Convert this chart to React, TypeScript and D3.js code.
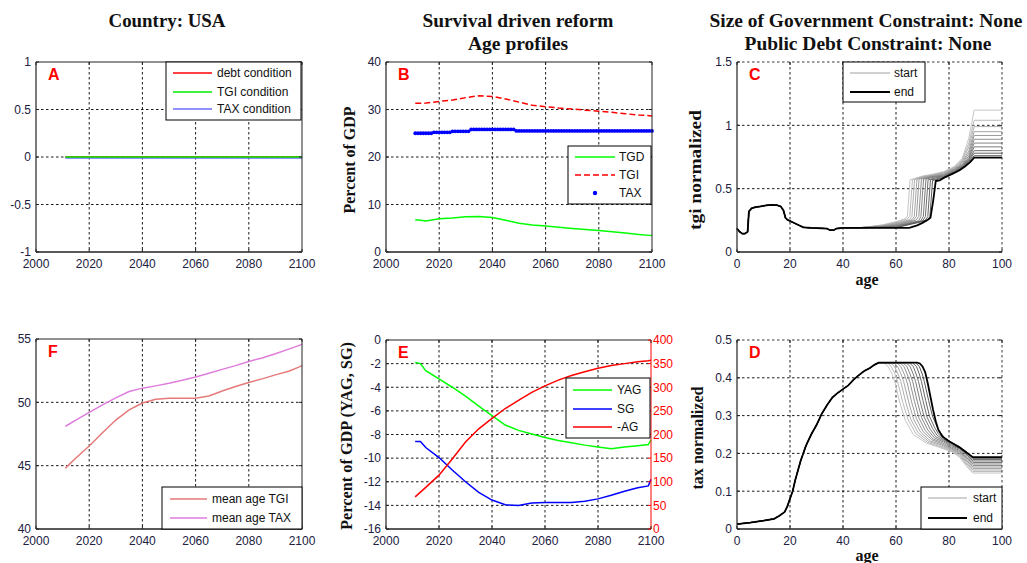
import React from 'react';
import * as d3 from 'd3';

const SANS = "'Liberation Sans', Arial, Helvetica, sans-serif";
const SERIF = "'Liberation Serif', 'Times New Roman', serif";
const TICK_COLOR = '#202040';

// ---------------- DATA ----------------
const yearTicks = [2000, 2020, 2040, 2060, 2080, 2100];
const ageTicks = [0, 20, 40, 60, 80, 100];

// Panel A
const condYears = [2011, 2100];
const debtCondition = [0, 0];
const tgiCondition = [0, 0];
const taxCondition = [0, 0];
const aYTicks = [-1, -0.5, 0, 0.5, 1];

// Shared year grid for B, E, F
const years = [2011, 2013, 2015, 2020, 2025, 2030, 2035, 2040, 2045, 2050, 2055, 2060, 2065, 2070, 2075, 2080, 2085, 2090, 2095, 2099, 2100];

// Panel B (percent of GDP)
const tgdSeries = [6.8, 6.7, 6.55, 7.0, 7.15, 7.4, 7.45, 7.25, 6.7, 6.05, 5.7, 5.45, 5.2, 4.95, 4.75, 4.55, 4.25, 4.0, 3.7, 3.5, 3.45];
const tgiSeries = [31.3, 31.3, 31.35, 31.7, 32.0, 32.5, 32.9, 32.75, 32.2, 31.55, 30.9, 30.6, 30.3, 30.1, 29.85, 29.65, 29.4, 29.1, 28.85, 28.7, 28.65];
const taxYears = d3.range(2011, 2101);
const taxSeries = [
  25.0, 25.0, 25.0, 25.0, 25.0, 25.0, 25.0,
  25.2, 25.2, 25.2, 25.2, 25.2, 25.2, 25.2,
  25.4, 25.4, 25.4, 25.4, 25.4, 25.4, 25.4,
  25.8, 25.8, 25.8, 25.8, 25.8, 25.8, 25.8, 25.8, 25.8, 25.8, 25.8, 25.8, 25.8, 25.8, 25.8, 25.8, 25.8,
  25.5, 25.5, 25.5, 25.5, 25.5, 25.5, 25.5, 25.5, 25.5, 25.5, 25.5, 25.5, 25.5,
  25.5, 25.5, 25.5, 25.5, 25.5, 25.5, 25.5, 25.5, 25.5, 25.5, 25.5, 25.5, 25.5,
  25.5, 25.5, 25.5, 25.5, 25.5, 25.5, 25.5, 25.5, 25.5, 25.5, 25.5, 25.5, 25.5,
  25.5, 25.5, 25.5, 25.5, 25.5, 25.5, 25.5, 25.5, 25.5, 25.5, 25.5, 25.5, 25.5,
];
const bYTicks = [0, 10, 20, 30, 40];

// Panel E
const yagSeries = [-1.9, -2.0, -2.6, -3.3, -4.0, -4.75, -5.6, -6.4, -7.2, -7.65, -7.95, -8.25, -8.5, -8.7, -8.9, -9.05, -9.2, -9.05, -8.95, -8.85, -8.45];
const sgSeries = [-8.6, -8.6, -9.1, -9.95, -11.0, -12.0, -12.9, -13.55, -13.95, -14.0, -13.8, -13.75, -13.75, -13.75, -13.65, -13.45, -13.15, -12.8, -12.5, -12.35, -11.8];
const negAgSeries = [68, 78, 88, 114, 148, 184, 212, 234, 255, 272, 289, 303, 315, 325, 333, 340, 346, 350, 354, 356, 357];
const eYTicks = [-16, -14, -12, -10, -8, -6, -4, -2, 0];
const eRightTicks = [0, 50, 100, 150, 200, 250, 300, 350, 400];

// Panel F
const meanAgeTGI = [44.8, 45.2, 45.6, 46.55, 47.6, 48.6, 49.4, 49.95, 50.25, 50.33, 50.32, 50.33, 50.5, 50.9, 51.25, 51.57, 51.85, 52.17, 52.45, 52.8, 52.9];
const meanAgeTAX = [48.1, 48.35, 48.6, 49.2, 49.8, 50.35, 50.85, 51.12, 51.3, 51.5, 51.75, 52.0, 52.3, 52.6, 52.9, 53.23, 53.5, 53.84, 54.2, 54.5, 54.6];
const fYTicks = [40, 45, 50, 55];

// Panel C: tgi normalized age profiles (common young-age part + cohort tails, start -> end)
type Pt = [number, number];
const tgiPrefix: Pt[] = [[0, .185], [1, .16], [2, .145], [3, .145], [4, .16], [4.5, .32], [5.5, .345], [7, .355], [9, .36], [11, .368], [13, .372], [15, .37], [16.5, .36], [17.5, .33], [18.3, .27], [19, .255], [20, .245], [22, .225], [25, .195], [28, .19], [34, .185], [35, .172], [36.5, .172], [37.5, .185], [40, .19], [44, .19]];
const tgiTails: Pt[][] = [
  [[45, .19], [50, .20], [55, .215], [60, .24], [63, .26], [64.3, .28], [65.3, .57], [67, .58], [70, .60], [74, .615], [78, .635], [82, .675], [85, .74], [87.5, .90], [89.5, 1.12], [100, 1.12]],
  [[45, .19], [50, .198], [55, .212], [60, .235], [64, .26], [65.2, .28], [66.2, .57], [68, .585], [71, .60], [74, .61], [78, .63], [82, .67], [85, .73], [87.5, .86], [89.5, 1.04], [100, 1.04]],
  [[45, .19], [55, .21], [60, .23], [65, .255], [66, .28], [67, .57], [69, .585], [72, .60], [78, .625], [82, .665], [85, .72], [87.5, .83], [89.5, .99], [100, .99]],
  [[45, .19], [55, .207], [60, .225], [66, .255], [66.9, .28], [67.9, .575], [70, .59], [73, .60], [78, .62], [82, .66], [85, .71], [87.5, .80], [89.5, .95], [100, .95]],
  [[45, .19], [55, .205], [60, .22], [66.5, .25], [67.7, .28], [68.7, .575], [71, .59], [74, .60], [78, .615], [82, .655], [85, .70], [87.5, .78], [89.5, .92], [100, .92]],
  [[45, .19], [55, .202], [60, .215], [67.5, .25], [68.6, .28], [69.6, .575], [72, .59], [75, .60], [78, .61], [82, .65], [85, .69], [87.5, .76], [89.5, .89], [100, .89]],
  [[45, .19], [55, .20], [60, .21], [68.5, .245], [69.4, .28], [70.4, .575], [73, .59], [78, .605], [82, .645], [85, .685], [87.5, .745], [89.5, .86], [100, .86]],
  [[45, .19], [55, .197], [60, .205], [69.3, .245], [70.3, .28], [71.3, .575], [74, .59], [78, .60], [82, .64], [85, .68], [87.5, .735], [89.5, .83], [100, .83]],
  [[45, .19], [60, .20], [70, .245], [71.1, .28], [72.1, .57], [75, .585], [78, .595], [82, .635], [85, .675], [87.5, .725], [89.5, .80], [100, .80]],
  [[45, .19], [60, .195], [71, .25], [72, .28], [73, .57], [76, .58], [78, .59], [82, .63], [85, .67], [87.5, .715], [89.5, .78], [100, .78]],
  [[45, .19], [60, .192], [72, .25], [72.8, .28], [73.8, .565], [76, .575], [78, .585], [82, .625], [85, .665], [87.5, .705], [89.5, .76], [100, .76]],
  [[45, .19], [65, .19], [68, .21], [70, .23], [72, .255], [73, .27], [74, .40], [75, .56], [76.5, .565], [78, .585], [80, .605], [82, .625], [84, .645], [86, .675], [88, .71], [89.5, .745], [100, .745]],
];
const cYTicks = [0, 0.5, 1, 1.5];

// Panel D: tax normalized age profiles
const taxPrefix: Pt[] = [[0, .013], [5, .017], [10, .022], [14, .027], [16, .035], [18, .045], [19, .06], [20, .08], [21, .10], [22, .13], [24, .18], [26, .22], [28, .25], [30, .275], [32, .305], [34, .328], [36, .348], [38, .36], [40, .37], [42, .38], [44, .395], [46, .407], [48, .418], [50, .425], [52, .435], [53.5, .44]];
const taxTails: Pt[][] = [
  [[55.5, .44], [57, .43], [58.5, .41], [59.5, .39], [61.5, .333], [63.5, .288], [66.5, .25], [71.5, .227], [76, .217], [81, .204], [84, .19], [86.8, .164], [89, .148], [100, .148]],
  [[56.7, .44], [58.2, .43], [59.6, .41], [60.6, .39], [62.6, .334], [64.6, .289], [67.5, .252], [72, .229], [76, .219], [81, .206], [84, .193], [86.8, .168], [89, .152], [100, .152]],
  [[57.9, .44], [59.4, .43], [60.8, .41], [61.8, .39], [63.7, .335], [65.6, .29], [68.4, .254], [72.5, .231], [76.5, .221], [81, .208], [84, .196], [86.8, .172], [89, .156], [100, .156]],
  [[59.1, .44], [60.6, .43], [61.9, .41], [62.9, .39], [64.8, .336], [66.6, .291], [69.3, .256], [73, .233], [77, .223], [81, .21], [84, .199], [86.8, .176], [89, .16], [100, .16]],
  [[60.3, .44], [61.8, .43], [63.1, .41], [64.1, .39], [65.9, .336], [67.7, .292], [70.2, .258], [73.5, .236], [77, .226], [81, .212], [84, .202], [86.8, .18], [89, .164], [100, .164]],
  [[61.5, .44], [63, .43], [64.2, .41], [65.2, .39], [67, .337], [68.7, .293], [71.1, .26], [74, .238], [77.5, .228], [81, .214], [84, .205], [86.8, .184], [89, .168], [100, .168]],
  [[62.6, .44], [64.1, .43], [65.3, .41], [66.3, .39], [68, .338], [69.7, .294], [72, .262], [74.5, .241], [78, .23], [81, .217], [84, .208], [86.8, .188], [89, .172], [100, .172]],
  [[63.8, .44], [65.3, .43], [66.5, .41], [67.4, .39], [69.1, .338], [70.7, .295], [72.9, .264], [75, .244], [78, .233], [81, .22], [84, .211], [86.8, .192], [89, .176], [100, .176]],
  [[65, .44], [66.5, .43], [67.6, .41], [68.5, .39], [70.2, .339], [71.7, .296], [73.8, .266], [75.5, .248], [78, .236], [81, .223], [84, .213], [86.8, .196], [89, .18], [100, .18]],
  [[66.2, .44], [67.7, .43], [68.8, .41], [69.6, .39], [71.2, .34], [72.7, .297], [74.6, .268], [76, .252], [78, .238], [81, .226], [84, .215], [86.8, .2], [89, .184], [100, .184]],
  [[67.3, .44], [68.8, .43], [69.9, .41], [70.7, .39], [72.3, .34], [73.8, .298], [75.5, .27], [76.8, .255], [78.5, .24], [81, .229], [84, .217], [86.8, .204], [89, .187], [100, .187]],
  [[68, .44], [69, .438], [70, .43], [71, .415], [72, .385], [73, .35], [74, .315], [75, .285], [76, .262], [77.5, .245], [80, .232], [82, .224], [84, .216], [86, .205], [88, .195], [89, .19], [100, .19]],
];
const dYTicks = [0, 0.1, 0.2, 0.3, 0.4, 0.5];

// ---------------- HELPERS ----------------
type Box = { l: number; r: number; t: number; b: number };
type Lin = d3.ScaleLinear<number, number>;

function Axes(props: {
  box: Box; x: Lin; y: Lin; xTicks: number[]; yTicks: number[]; letter: string;
  dottedEdges?: boolean; right?: { scale: Lin; ticks: number[]; color: string };
  children?: React.ReactNode;
}) {
  const { box, x, y, xTicks, yTicks, letter, dottedEdges, right, children } = props;
  const [x0, x1] = x.domain();
  const [y0, y1] = y.domain();
  const gx = xTicks.filter((v) => v !== x0 && v !== x1);
  const gy = yTicks.filter((v) => v !== y0 && v !== y1);
  const dash = '2.5,2.5';
  const tl = 3;
  return (
    <g>
      <rect x={box.l} y={box.t} width={box.r - box.l} height={box.b - box.t} fill="#fff" />
      {gx.map((v) => (
        <line key={'gx' + v} x1={x(v)} x2={x(v)} y1={box.t} y2={box.b} stroke="#000" strokeWidth={0.9} strokeDasharray={dash} />
      ))}
      {gy.map((v) => (
        <line key={'gy' + v} x1={box.l} x2={box.r} y1={y(v)} y2={y(v)} stroke="#000" strokeWidth={0.9} strokeDasharray={dash} />
      ))}
      {children}
      {/* frame */}
      <line x1={box.l} x2={box.r} y1={box.t} y2={box.t} stroke="#222" strokeWidth={dottedEdges ? 0.9 : 1} strokeDasharray={dottedEdges ? dash : undefined} />
      <line x1={box.r} x2={box.r} y1={box.t} y2={box.b} stroke={right ? right.color : '#222'} strokeWidth={dottedEdges ? 0.9 : 1} strokeDasharray={dottedEdges ? dash : undefined} />
      <line x1={box.l} x2={box.l} y1={box.t} y2={box.b} stroke="#222" strokeWidth={1.2} />
      <line x1={box.l} x2={box.r} y1={box.b} y2={box.b} stroke="#222" strokeWidth={1.4} />
      {/* ticks */}
      {xTicks.map((v) => (
        <g key={'tx' + v}>
          <line x1={x(v)} x2={x(v)} y1={box.b} y2={box.b - tl} stroke="#222" />
          <line x1={x(v)} x2={x(v)} y1={box.t} y2={box.t + tl} stroke="#222" />
          <text x={x(v)} y={box.b + 15.5} textAnchor="middle" fontSize={12} fill={TICK_COLOR} fontFamily={SANS}>{String(v)}</text>
        </g>
      ))}
      {yTicks.map((v) => (
        <g key={'ty' + v}>
          <line x1={box.l} x2={box.l + tl} y1={y(v)} y2={y(v)} stroke="#222" />
          {!right && <line x1={box.r} x2={box.r - tl} y1={y(v)} y2={y(v)} stroke="#222" />}
          <text x={box.l - 5} y={y(v)} dy="0.36em" textAnchor="end" fontSize={12} fill={TICK_COLOR} fontFamily={SANS}>{String(v)}</text>
        </g>
      ))}
      {right &&
        right.ticks.map((v) => (
          <g key={'tr' + v}>
            <line x1={box.r} x2={box.r - tl} y1={right.scale(v)} y2={right.scale(v)} stroke={right.color} />
            <text x={box.r + 2} y={right.scale(v)} dy="0.36em" textAnchor="start" fontSize={12} fill={right.color} fontFamily={SANS}>{String(v)}</text>
          </g>
        ))}
      <text x={box.l + 12} y={box.t + 18} fontSize={16} fontWeight="bold" fill="#ff0000" fontFamily={SANS}>{letter}</text>
    </g>
  );
}

type LegItem = { label: string; color: string; width?: number; dash?: string; marker?: boolean };
function Legend(props: { x: number; y: number; w: number; h: number; rows: number[]; lineX: [number, number]; textX: number; items: LegItem[] }) {
  const { x, y, w, h, rows, lineX, textX, items } = props;
  return (
    <g>
      <rect x={x} y={y} width={w} height={h} fill="#fff" stroke="#000" strokeWidth={1} />
      {items.map((it, i) => (
        <g key={it.label}>
          {it.marker ? (
            <circle cx={(lineX[0] + lineX[1]) / 2} cy={rows[i]} r={2.2} fill={it.color} />
          ) : (
            <line x1={lineX[0]} x2={lineX[1]} y1={rows[i]} y2={rows[i]} stroke={it.color} strokeWidth={it.width ?? 1.5} strokeDasharray={it.dash} />
          )}
          <text x={textX} y={rows[i]} dy="0.36em" fontSize={12} fill="#111" fontFamily={SANS}>{it.label}</text>
        </g>
      ))}
    </g>
  );
}

function Title({ x, y, text, len, size = 18 }: { x: number; y: number; text: string; len: number; size?: number }) {
  return (
    <text x={x} y={y} textAnchor="middle" fontSize={size} fontWeight="bold" fontFamily={SERIF} fill="#111" textLength={len} lengthAdjust="spacingAndGlyphs">{text}</text>
  );
}

function YLabel({ x, y, text, len, size = 16 }: { x: number; y: number; text: string; len: number; size?: number }) {
  return (
    <text transform={`translate(${x},${y}) rotate(-90)`} textAnchor="middle" fontSize={size} fontWeight="bold" fontFamily={SERIF} fill="#111" textLength={len} lengthAdjust="spacingAndGlyphs">{text}</text>
  );
}

const lineXY = (x: Lin, y: Lin) => d3.line<Pt>().x((d) => x(d[0])).y((d) => y(d[1]));
const zipPts = (xs: number[], ys: number[]): Pt[] => xs.map((v, i) => [v, ys[i]] as Pt);

// ---------------- APP ----------------
export default function App() {
  const bA: Box = { l: 36, r: 302, t: 62, b: 252 };
  const bB: Box = { l: 386, r: 652, t: 62, b: 252 };
  const bC: Box = { l: 737, r: 1002, t: 62, b: 252 };
  const bF: Box = { l: 36, r: 302, t: 339, b: 529 };
  const bE: Box = { l: 386, r: 651, t: 340, b: 529 };
  const bD: Box = { l: 737, r: 1002, t: 340, b: 529 };

  const xA = d3.scaleLinear().domain([2000, 2100]).range([bA.l, bA.r]);
  const yA = d3.scaleLinear().domain([-1, 1]).range([bA.b, bA.t]);
  const xB = d3.scaleLinear().domain([2000, 2100]).range([bB.l, bB.r]);
  const yB = d3.scaleLinear().domain([0, 40]).range([bB.b, bB.t]);
  const xC = d3.scaleLinear().domain([0, 100]).range([bC.l, bC.r]);
  const yC = d3.scaleLinear().domain([0, 1.5]).range([bC.b, bC.t]);
  const xF = d3.scaleLinear().domain([2000, 2100]).range([bF.l, bF.r]);
  const yF = d3.scaleLinear().domain([40, 55]).range([bF.b, bF.t]);
  const xE = d3.scaleLinear().domain([2000, 2100]).range([bE.l, bE.r]);
  const yE = d3.scaleLinear().domain([-16, 0]).range([bE.b, bE.t]);
  const yER = d3.scaleLinear().domain([0, 400]).range([bE.b, bE.t]);
  const xD = d3.scaleLinear().domain([0, 100]).range([bD.l, bD.r]);
  const yD = d3.scaleLinear().domain([0, 0.5]).range([bD.b, bD.t]);

  const lA = lineXY(xA, yA);
  const lB = lineXY(xB, yB);
  const lC = lineXY(xC, yC);
  const lF = lineXY(xF, yF);
  const lE = lineXY(xE, yE);
  const lER = lineXY(xE, yER);
  const lD = lineXY(xD, yD);

  const n = tgiTails.length;
  const greyFor = (i: number) => (i === n - 1 ? '#000' : d3.interpolateRgb('#c6c6c6', '#5a5a5a')(i / (n - 2)));

  return (
    <svg width={1027} height={563} style={{ position: 'absolute', left: 0, top: 0, background: '#fff' }}>
      <rect x={0} y={0} width={1027} height={563} fill="#fff" />

      {/* Titles */}
      <Title x={167} y={27} text="Country: USA" len={117} />
      <Title x={518} y={27} text="Survival driven reform" len={191} />
      <Title x={518} y={50} text="Age profiles" len={100} />
      <Title x={866} y={27} text="Size of Government Constraint: None" len={313} />
      <Title x={868} y={50} text="Public Debt Constraint: None" len={247} />

      {/* Panel A */}
      <Axes box={bA} x={xA} y={yA} xTicks={yearTicks} yTicks={aYTicks} letter="A">
        <path d={lA(zipPts(condYears, debtCondition)) ?? ''} fill="none" stroke="#ff0000" strokeWidth={1.5} />
        <path d={lA(zipPts(condYears, taxCondition)) ?? ''} fill="none" stroke="#6b6bff" strokeWidth={1.5} transform="translate(0,1)" />
        <path d={lA(zipPts(condYears, tgiCondition)) ?? ''} fill="none" stroke="#00ee00" strokeWidth={1.5} />
      </Axes>
      <Legend x={166} y={62} w={135} h={58} rows={[73, 92, 109]} lineX={[173, 212]} textX={217}
        items={[{ label: 'debt condition', color: '#ff0000' }, { label: 'TGI condition', color: '#00ee00' }, { label: 'TAX condition', color: '#6b6bff' }]} />

      {/* Panel B */}
      <Axes box={bB} x={xB} y={yB} xTicks={yearTicks} yTicks={bYTicks} letter="B">
        <path d={lB(zipPts(years, tgdSeries)) ?? ''} fill="none" stroke="#00ff00" strokeWidth={1.5} />
        <path d={lB(zipPts(years, tgiSeries)) ?? ''} fill="none" stroke="#ff0000" strokeWidth={1.5} strokeDasharray="6,3" />
        {taxYears.map((yr, i) => (
          <circle key={yr} cx={xB(yr)} cy={yB(taxSeries[i])} r={1.9} fill="#0000ff" />
        ))}
      </Axes>
      <Legend x={568} y={146} w={83} h={58} rows={[157, 175, 193]} lineX={[575, 615]} textX={619}
        items={[{ label: 'TGD', color: '#00ff00' }, { label: 'TGI', color: '#ff0000', dash: '6,3' }, { label: 'TAX', color: '#0000ff', marker: true }]} />
      <YLabel x={355} y={160} text="Percent of GDP" len={107} />

      {/* Panel C */}
      <Axes box={bC} x={xC} y={yC} xTicks={ageTicks} yTicks={cYTicks} letter="C" dottedEdges>
        {tgiTails.map((tail, i) => (
          <path key={i} d={lC([...tgiPrefix, ...tail]) ?? ''} fill="none" stroke={greyFor(i)} strokeWidth={i === n - 1 ? 1.8 : 1} />
        ))}
      </Axes>
      <Legend x={843} y={62} w={82} h={40} rows={[73, 92]} lineX={[850, 890]} textX={894}
        items={[{ label: 'start', color: '#c0c0c0' }, { label: 'end', color: '#000', width: 2 }]} />
      <YLabel x={701} y={170} text="tgi normalized" len={120} />
      <text x={867} y={285} textAnchor="middle" fontSize={16} fontWeight="bold" fontFamily={SERIF} fill="#111">age</text>

      {/* Panel F */}
      <Axes box={bF} x={xF} y={yF} xTicks={yearTicks} yTicks={fYTicks} letter="F">
        <path d={lF(zipPts(years, meanAgeTGI)) ?? ''} fill="none" stroke="#e67a7a" strokeWidth={1.5} />
        <path d={lF(zipPts(years, meanAgeTAX)) ?? ''} fill="none" stroke="#de7ddc" strokeWidth={1.5} />
      </Axes>
      <Legend x={162} y={487} w={140} h={42} rows={[499, 518]} lineX={[170, 207]} textX={212}
        items={[{ label: 'mean age TGI', color: '#e67a7a' }, { label: 'mean age TAX', color: '#de7ddc' }]} />

      {/* Panel E */}
      <Axes box={bE} x={xE} y={yE} xTicks={yearTicks} yTicks={eYTicks} letter="E" right={{ scale: yER, ticks: eRightTicks, color: '#ff0000' }}>
        <path d={lE(zipPts(years, yagSeries)) ?? ''} fill="none" stroke="#00ff00" strokeWidth={1.5} />
        <path d={lE(zipPts(years, sgSeries)) ?? ''} fill="none" stroke="#0000ff" strokeWidth={1.5} />
        <path d={lER(zipPts(years, negAgSeries)) ?? ''} fill="none" stroke="#ff0000" strokeWidth={1.5} />
      </Axes>
      <Legend x={566} y={378} w={84} h={60} rows={[390, 409, 427]} lineX={[573, 612]} textX={617}
        items={[{ label: 'YAG', color: '#00ff00' }, { label: 'SG', color: '#0000ff' }, { label: '-AG', color: '#ff0000' }]} />
      <YLabel x={352} y={436} text="Percent of GDP (YAG, SG)" len={188} />

      {/* Panel D */}
      <Axes box={bD} x={xD} y={yD} xTicks={ageTicks} yTicks={dYTicks} letter="D" dottedEdges>
        {taxTails.map((tail, i) => (
          <path key={i} d={lD([...taxPrefix, ...tail]) ?? ''} fill="none" stroke={greyFor(i)} strokeWidth={i === n - 1 ? 1.8 : 1} />
        ))}
      </Axes>
      <Legend x={921} y={487} w={81} h={42} rows={[498, 518]} lineX={[928, 967]} textX={973}
        items={[{ label: 'start', color: '#c0c0c0' }, { label: 'end', color: '#000', width: 2 }]} />
      <YLabel x={703} y={438} text="tax normalized" len={103} />
      <text x={867} y={561} textAnchor="middle" fontSize={16} fontWeight="bold" fontFamily={SERIF} fill="#111">age</text>
    </svg>
  );
}
